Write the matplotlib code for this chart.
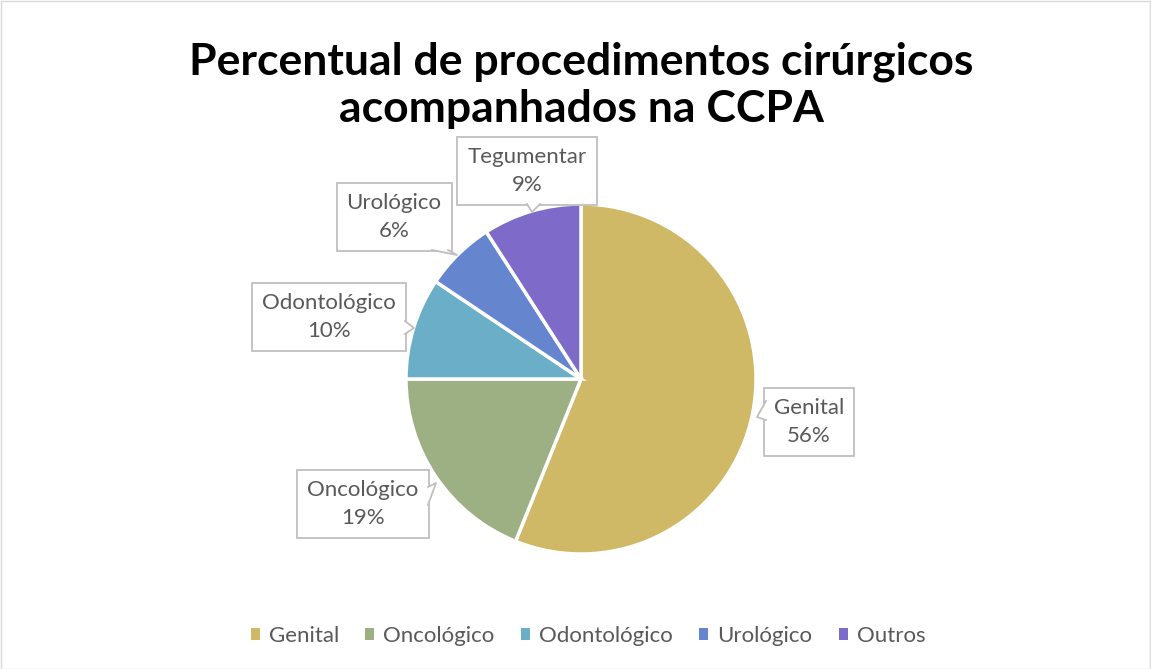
import matplotlib.pyplot as plt
from matplotlib.patches import Polygon, Rectangle
from matplotlib.lines import Line2D

# dados
categorias = ['Genital', 'Oncológico', 'Odontológico', 'Urológico', 'Outros']
rotulos = ['Genital', 'Oncológico', 'Odontológico', 'Urológico', 'Tegumentar']
valores = [56.1, 18.9, 9.4, 6.5, 9.1]
percentuais = ['56%', '19%', '10%', '6%', '9%']
cores = ['#CFB966', '#9CB084', '#6AAFC7', '#6585CF', '#7E6BC9']

W, H = 1151, 669
CX, CY, R = 581, 379, 175


def px(x, y):
    # pixel da imagem -> coordenadas do eixo da pizza
    return (x - CX) / R, (CY - y) / R


# posições dos rótulos (centro do texto) e das "caudas" dos balões, em pixels
pos_rotulos = [(809, 422), (363, 504), (329, 317), (394, 217), (527, 171)]
caudas = [
    [(766, 401), (757, 417), (766, 420)],
    [(428, 487), (436, 483), (428, 505)],
    [(405, 321), (414, 328), (405, 334)],
    [(432, 250), (457, 255), (448, 250)],
    [(527, 204), (532, 212), (540, 204)],
]

plt.rcParams['font.family'] = ['Lato', 'DejaVu Sans']

fig = plt.figure(figsize=(W / 100, H / 100), dpi=100)
ax = fig.add_axes([0, 0, 1, 1])

wedges, _ = ax.pie(valores, colors=cores, startangle=90, counterclock=False,
                   radius=1, wedgeprops=dict(edgecolor='white', linewidth=2.5))
ax.set_xlim(-CX / R, (W - CX) / R)
ax.set_ylim((CY - H) / R, CY / R)
ax.set_aspect('auto')
ax.axis('off')

for (x, y), nome, pct, cauda in zip(pos_rotulos, rotulos, percentuais, caudas):
    ax.text(*px(x, y), f'{nome}\n{pct}', ha='center', va='center', fontsize=16,
            color='#595959', linespacing=1.45, zorder=5,
            bbox=dict(boxstyle='square,pad=0.45', fc='white', ec='#BFBFBF', lw=1.3))
    pts = [px(*p) for p in cauda]
    ax.add_patch(Polygon(pts, closed=True, fc='white', ec='none', zorder=6))
    ax.add_line(Line2D([p[0] for p in pts], [p[1] for p in pts],
                       color='#BFBFBF', lw=1.3, zorder=7))

fig.text(CX / W, 1 - 85 / H, 'Percentual de procedimentos cirúrgicos\nacompanhados na CCPA',
         ha='center', va='center', fontsize=32, fontweight='bold', color='black',
         linespacing=1.2)

handles = [Rectangle((0, 0), 1, 1, fc=c, ec='none') for c in cores]
fig.legend(handles, categorias, loc='center', bbox_to_anchor=(588 / W, 1 - 636 / H),
           ncol=5, frameon=False, fontsize=16, labelcolor='#595959',
           handlelength=0.4, handleheight=0.4, handletextpad=0.4, columnspacing=1.2)

fig.add_artist(Rectangle((0.5 / W, 0.5 / H), 1 - 1.5 / W, 1 - 1.5 / H,
                         transform=fig.transFigure, fill=False, ec='#D9D9D9', lw=1))

fig.savefig('out.png', dpi=100)
